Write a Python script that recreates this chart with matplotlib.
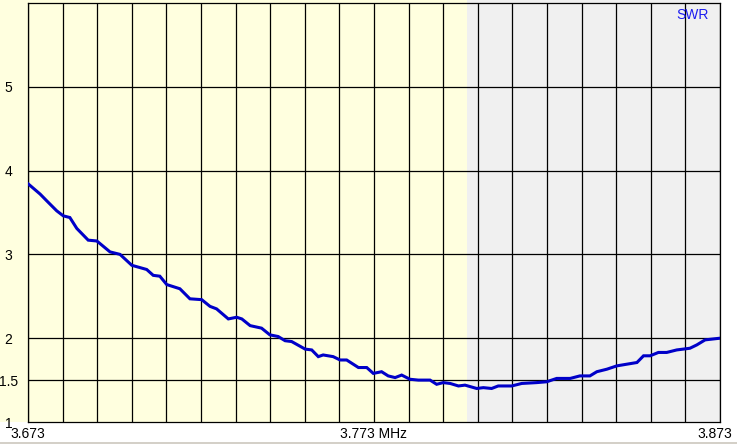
import matplotlib
matplotlib.use('Agg')
import matplotlib.pyplot as plt
from matplotlib.patches import Rectangle
from matplotlib.transforms import ScaledTranslation

# sweep (MHz, SWR)
freq = [3.6731, 3.6765, 3.6784, 3.6813, 3.6832, 3.6851, 3.6871, 3.6904, 3.6929,
        3.6967, 3.6996, 3.7030, 3.7073, 3.7092, 3.7111, 3.7131, 3.7169, 3.7198,
        3.7232, 3.7256, 3.7275, 3.7309, 3.7333, 3.7348, 3.7372, 3.7405, 3.7429,
        3.7453, 3.7473, 3.7492, 3.7531, 3.7550, 3.7569, 3.7583, 3.7612, 3.7632,
        3.7651, 3.7685, 3.7709, 3.7728, 3.7752, 3.7771, 3.7791, 3.7810, 3.7834,
        3.7858, 3.7892, 3.7911, 3.7930, 3.7950, 3.7974, 3.7993, 3.8027, 3.8046,
        3.8070, 3.8089, 3.8128, 3.8157, 3.8200, 3.8229, 3.8258, 3.8297, 3.8325,
        3.8354, 3.8374, 3.8403, 3.8432, 3.8461, 3.8490, 3.8509, 3.8528, 3.8552,
        3.8576, 3.8605, 3.8643, 3.8663, 3.8687, 3.8730]
swr = [3.84, 3.72, 3.64, 3.52, 3.46, 3.44, 3.31, 3.17, 3.16,
       3.03, 3.00, 2.87, 2.82, 2.75, 2.74, 2.64, 2.59, 2.47,
       2.46, 2.38, 2.35, 2.23, 2.25, 2.23, 2.15, 2.12, 2.04,
       2.02, 1.97, 1.96, 1.87, 1.86, 1.78, 1.80, 1.78, 1.74,
       1.74, 1.65, 1.65, 1.58, 1.60, 1.55, 1.53, 1.56, 1.51,
       1.50, 1.50, 1.45, 1.47, 1.46, 1.43, 1.44, 1.40, 1.41,
       1.40, 1.43, 1.43, 1.46, 1.47, 1.48, 1.52, 1.52, 1.55,
       1.55, 1.60, 1.63, 1.67, 1.69, 1.71, 1.79, 1.79, 1.83,
       1.83, 1.86, 1.88, 1.92, 1.98, 2.00]

f_start, f_stop = 3.673, 3.873
band_edge = 3.800
y_ticks = [1, 1.5, 2, 3, 4, 5]
y_labels = ['1', '1.5', '2', '3', '4', '5']
x_ticks = [3.673, 3.773, 3.873]
x_labels = ['3.673', '3.773 MHz', '3.873']

CREAM = '#ffffdf'
GREY = '#f0f0f0'
TRACE = '#0000c8'

plt.rcParams['font.family'] = ['Liberation Sans', 'DejaVu Sans']

W, H = 737, 444
fig = plt.figure(figsize=(W / 100, H / 100), dpi=100, facecolor='white')
ax = fig.add_axes([28 / W, 22 / H, 692 / W, 419 / H])
ax.set_facecolor('none')

# cream margin on the left, grey strip at the very bottom
fig.patches.append(Rectangle((0, 22 / H), 28 / W, 1 - 22 / H, transform=fig.transFigure,
                             facecolor=CREAM, edgecolor='none', zorder=-5))
fig.patches.append(Rectangle((0, 0), 1, 2.5 / H, transform=fig.transFigure,
                             facecolor='#d4d0c8', edgecolor='none', zorder=-5))

ax.axvspan(f_start, band_edge, ymin=0, ymax=1.01, color=CREAM, zorder=0, clip_on=False, lw=0)
ax.axvspan(band_edge, f_stop, ymin=0, ymax=1.01, color=GREY, zorder=0, clip_on=False, lw=0)

for i in range(21):
    ax.axvline(f_start + i * 0.01, color='black', lw=0.9, zorder=1)
for v in y_ticks[1:]:
    ax.axhline(v, color='black', lw=0.9, zorder=1)

ax.plot(freq, swr, color=TRACE, lw=2.2, zorder=3, solid_joinstyle='miter')

ax.set_xlim(f_start, f_stop)
ax.set_ylim(1, 6)
for s in ax.spines.values():
    s.set_color('black')
    s.set_linewidth(0.9)

ax.set_yticks(y_ticks)
ax.set_yticklabels(y_labels, fontsize=10)
ax.tick_params(axis='y', length=0, pad=14)
for lbl in ax.get_yticklabels():
    lbl.set_horizontalalignment('center')

ax.set_xticks(x_ticks)
ax.set_xticklabels(x_labels, fontsize=10)
ax.tick_params(axis='x', length=0, pad=3.5)
last = ax.get_xticklabels()[-1]
last.set_transform(last.get_transform() + ScaledTranslation(-0.05, 0, fig.dpi_scale_trans))

ax.text(0.984, 1 - 5 / 419, 'SWR', transform=ax.transAxes, ha='right', va='top',
        fontsize=10, color='#1c1cf0')

fig.savefig('out.png', dpi=100, facecolor='white')
